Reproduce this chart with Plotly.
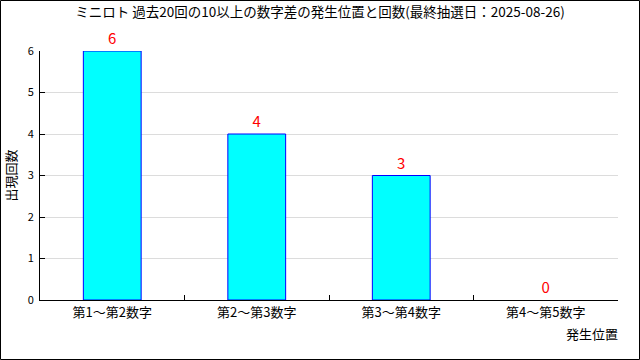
import plotly.graph_objects as go

categories = ["第1～第2数字", "第2～第3数字", "第3～第4数字", "第4～第5数字"]
counts = [6, 4, 3, 0]
y_ticks = [0, 1, 2, 3, 4, 5, 6]

title = "ミニロト 過去20回の10以上の数字差の発生位置と回数(最終抽選日：2025-08-26)"
font = "Noto Sans CJK JP"

W, H = 640, 360
L, R, T, B = 40, 22, 51, 60
pw, ph = W - L - R, H - T - B

fig = go.Figure(go.Bar(
    x=categories, y=counts, width=0.4,
    marker=dict(color="#00FFFF",
                line=dict(color="#0000FF", width=[1 if c > 0 else 0 for c in counts])),
    text=[str(c) for c in counts], textposition="outside",
    textfont=dict(color="#FF0000", size=15, family=font),
    cliponaxis=False,
))

fig.update_layout(
    width=W, height=H,
    margin=dict(l=L, r=R, t=T, b=B, autoexpand=False),
    paper_bgcolor="white", plot_bgcolor="white",
    font=dict(family=font, size=13, color="black"),
    showlegend=False,
    title=dict(text=title, x=0.5, xanchor="center", y=1 - 12 / H, yanchor="middle",
               font=dict(size=13.5, family=font)),
    xaxis=dict(
        showline=True, linecolor="black", linewidth=1,
        ticks="inside", tickson="boundaries", ticklen=5, tickcolor="black",
        showgrid=False, tickfont=dict(size=13), automargin=False,
    ),
    yaxis=dict(
        range=[0, 6], tickvals=y_ticks, showline=True, linecolor="black", linewidth=1,
        ticks="inside", ticklen=5, tickcolor="black",
        showgrid=True, gridcolor="#DCDCDC", gridwidth=1, zeroline=False,
        tickfont=dict(size=11), automargin=False, ticklabelstandoff=3,
        title=dict(text="出現回数", font=dict(size=13), standoff=8),
    ),
    annotations=[dict(text="発生位置", xref="paper", yref="paper",
                      x=(W - 20 - L) / pw, y=-(333 - T - ph) / ph,
                      xanchor="right", yanchor="middle", showarrow=False,
                      font=dict(size=13, family=font))],
    shapes=[dict(type="rect", xref="paper", yref="paper",
                 x0=(0.5 - L) / pw, x1=(W - 0.5 - L) / pw,
                 y0=-(H - 0.5 - T - ph) / ph, y1=(T - 0.5) / ph + 1,
                 line=dict(color="black", width=1), fillcolor="rgba(0,0,0,0)")],
)

fig.write_html("out.html", config={"displayModeBar": False},
               post_script="document.body.style.margin='0px';document.body.style.padding='0px';")
